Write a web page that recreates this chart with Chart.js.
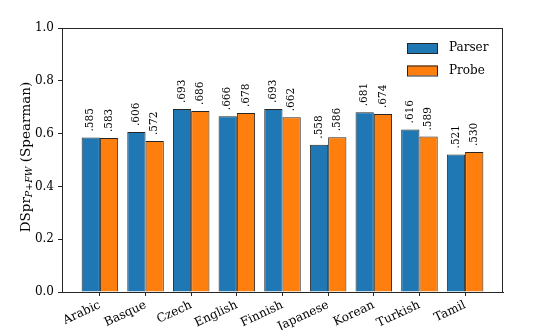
<!DOCTYPE html>
<html>
<head>
<meta charset="utf-8">
<script src="https://cdn.jsdelivr.net/npm/chart.js@4/dist/chart.umd.min.js"></script>
<style>
  html, body { margin: 0; padding: 0; background: #fff; }
  #chart { display: block; }
</style>
</head>
<body>
<canvas id="chart" width="541" height="330"></canvas>
<script>
Chart.defaults.devicePixelRatio = 1;
Chart.defaults.responsive = false;
Chart.defaults.maintainAspectRatio = false;

const languages = ["Arabic", "Basque", "Czech", "English", "Finnish", "Japanese", "Korean", "Turkish", "Tamil"];
const parserScores = [0.585, 0.606, 0.693, 0.666, 0.693, 0.558, 0.681, 0.616, 0.521];
const probeScores = [0.583, 0.572, 0.686, 0.678, 0.662, 0.586, 0.674, 0.589, 0.530];
const yTicks = [0, 0.2, 0.4, 0.6, 0.8, 1.0];

const SERIF = "'DejaVu Serif', serif";
const EDGE = "#262626";
const BLUE = "#1f77b4";
const ORANGE = "#ff7f0e";

function fmtValue(v) {
  return v.toFixed(3).replace(/^0/, "");
}

// value labels, legend, frame and y title
const decorations = {
  id: "decorations",
  afterDatasetsDraw(chart) {
    const ctx = chart.ctx;
    ctx.save();
    ctx.fillStyle = "#000";
    ctx.font = "10.5px " + SERIF;
    ctx.textAlign = "left";
    ctx.textBaseline = "middle";
    chart.data.datasets.forEach((ds, di) => {
      const meta = chart.getDatasetMeta(di);
      meta.data.forEach((el, i) => {
        ctx.save();
        ctx.translate(el.x, el.y - 6);
        ctx.rotate(-Math.PI / 2);
        ctx.fillText(fmtValue(ds.data[i].y), 0, 0);
        ctx.restore();
      });
    });
    ctx.restore();
  },
  afterDraw(chart) {
    const ctx = chart.ctx;
    const a = chart.chartArea;
    ctx.save();
    // frame
    ctx.strokeStyle = EDGE;
    ctx.lineWidth = 1;
    ctx.strokeRect(Math.round(a.left) + 0.5, Math.round(a.top) + 0.5,
      Math.round(a.right - a.left) - 1, Math.round(a.bottom - a.top));

    // legend
    const items = [["Parser", BLUE], ["Probe", ORANGE]];
    ctx.font = "12px " + SERIF;
    ctx.textAlign = "left";
    ctx.textBaseline = "middle";
    items.forEach(([label, color], i) => {
      const y = 43 + i * 22.5;
      ctx.fillStyle = color;
      ctx.fillRect(407, y, 30, 10);
      ctx.strokeStyle = EDGE;
      ctx.lineWidth = 1;
      ctx.strokeRect(407.5, y + 0.5, 30, 10);
      ctx.fillStyle = "#000";
      ctx.fillText(label, 449, y + 5);
    });

    // y axis title with subscript
    const cx = 26, cy = (a.top + a.bottom) / 2 - 3;
    ctx.translate(cx, cy);
    ctx.rotate(-Math.PI / 2);
    ctx.textBaseline = "middle";
    const mainFont = "13.5px " + SERIF;
    const subFont = "italic 9.5px " + SERIF;
    const parts = [
      ["DSpr", mainFont, 0],
      ["P+FW", subFont, 3.5],
      [" (Spearman)", mainFont, 0]
    ];
    let total = 0;
    parts.forEach(([t, f]) => { ctx.font = f; total += ctx.measureText(t).width; });
    let x = -total / 2;
    parts.forEach(([t, f, dy]) => {
      ctx.font = f;
      ctx.fillText(t, x, dy);
      x += ctx.measureText(t).width;
    });
    ctx.restore();
  }
};

const makeData = (vals) => vals.map((v, i) => ({ x: i, y: v }));

new Chart(document.getElementById("chart").getContext("2d"), {
  type: "bar",
  data: {
    datasets: [
      {
        label: "Parser",
        data: makeData(parserScores),
        backgroundColor: BLUE,
        borderColor: EDGE,
        borderWidth: 1,
        categoryPercentage: 0.8,
        barPercentage: 1.0
      },
      {
        label: "Probe",
        data: makeData(probeScores),
        backgroundColor: ORANGE,
        borderColor: EDGE,
        borderWidth: 1,
        categoryPercentage: 0.8,
        barPercentage: 1.0
      }
    ]
  },
  options: {
    responsive: false,
    maintainAspectRatio: false,
    animation: false,
    layout: { padding: { left: 0, top: 28, right: 38, bottom: 0 } },
    plugins: {
      legend: { display: false },
      tooltip: { enabled: false }
    },
    scales: {
      x: {
        type: "linear",
        min: -0.83,
        max: 8.83,
        offset: false,
        afterBuildTicks: (s) => { s.ticks = languages.map((_, i) => ({ value: i })); },
        afterFit: (s) => { s.height = 38; },
        ticks: {
          autoSkip: false,
          minRotation: 25,
          maxRotation: 25,
          padding: 2,
          color: "#000",
          font: { family: SERIF, size: 12 },
          callback: (v) => languages[v]
        },
        grid: { offset: false, drawOnChartArea: false, drawTicks: true, tickLength: 4, color: EDGE },
        border: { display: true, color: EDGE }
      },
      y: {
        min: 0,
        max: 1,
        afterBuildTicks: (s) => { s.ticks = yTicks.map((v) => ({ value: v })); },
        afterFit: (s) => { s.width = 62; },
        ticks: {
          padding: 4,
          color: "#000",
          font: { family: SERIF, size: 12 },
          callback: (v) => v.toFixed(1)
        },
        grid: { drawOnChartArea: false, drawTicks: true, tickLength: 4, color: EDGE },
        border: { display: true, color: EDGE }
      }
    }
  },
  plugins: [decorations]
});
</script>
</body>
</html>
